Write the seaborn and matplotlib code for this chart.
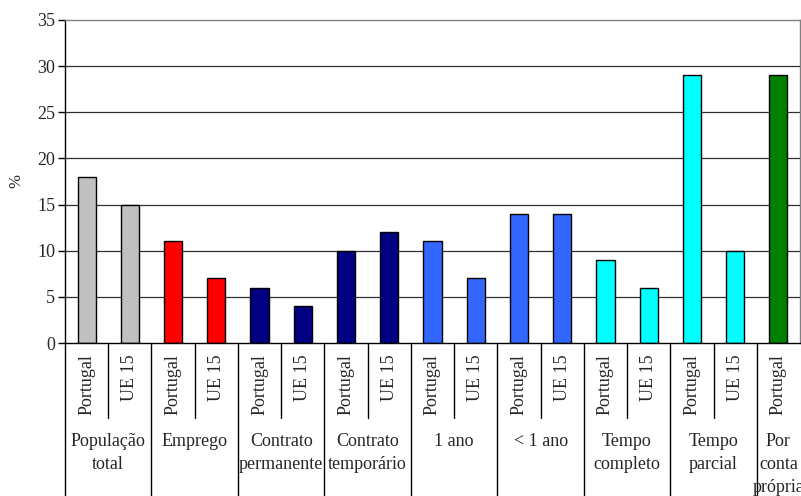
import matplotlib
matplotlib.use("Agg")
import matplotlib.pyplot as plt
import seaborn as sns
import pandas as pd

# Grupos e valores (%)
grupos = ["População\ntotal", "Emprego", "Contrato\npermanente", "Contrato\ntemporário",
          "1 ano", "< 1 ano", "Tempo\ncompleto", "Tempo\nparcial", "Por\nconta\nprópria"]
portugal = [18, 11, 6, 10, 11, 14, 9, 29, 29]
ue15 = [15, 7, 4, 12, 7, 14, 6, 10, None]
cores_grupo = ["#C0C0C0", "#FF0000", "#000080", "#000080", "#3366FF", "#3366FF",
               "#00FFFF", "#00FFFF", "#008000"]
paises = ["Portugal", "UE 15"]

linhas = []
for g, p, u, c in zip(grupos, portugal, ue15, cores_grupo):
    linhas.append({"barra": f"{g}|Portugal", "grupo": g, "pais": "Portugal", "valor": p, "cor": c})
    if u is not None:
        linhas.append({"barra": f"{g}|UE 15", "grupo": g, "pais": "UE 15", "valor": u, "cor": c})
df = pd.DataFrame(linhas)

sns.set_style("white")
plt.rcParams["font.family"] = ["Liberation Serif", "DejaVu Serif"]

fig = plt.figure(figsize=(8.01, 4.96), dpi=100)
ax = fig.add_axes([65 / 801, 1 - 343 / 496, 735 / 801, 323 / 496])

paleta = dict(zip(df["barra"], df["cor"]))
sns.barplot(data=df, x="barra", y="valor", hue="barra", palette=paleta, order=list(df["barra"]),
            width=0.42, edgecolor="black", linewidth=1.0, saturation=1, legend=False, ax=ax)

ax.set_ylim(0, 35)
ax.set_xlim(-0.5, len(df) - 0.5)
ax.set_yticks(range(0, 36, 5))
ax.tick_params(axis="y", labelsize=13, length=5, width=1, color="black", left=True, pad=2)
ax.tick_params(axis="x", bottom=False, labelbottom=False)
ax.set_xlabel("")
ax.set_ylabel("%", fontsize=12, labelpad=9)

for v in range(5, 35, 5):
    ax.axhline(v, color="#303030", lw=0.9, zorder=0)

for lado in ["top", "right"]:
    ax.spines[lado].set_color("#808080")
    ax.spines[lado].set_linewidth(1.0)
for lado in ["left", "bottom"]:
    ax.spines[lado].set_color("black")
    ax.spines[lado].set_linewidth(1.0)

trans = ax.get_xaxis_transform()
fundo = (343 - 496) / 323
curto = (343 - 418) / 323

# Rótulos das barras e separadores
pos = 0
for g in grupos:
    sub = df[df["grupo"] == g]
    n = len(sub)
    ax.plot([pos - 0.5, pos - 0.5], [0, fundo], transform=trans, color="black",
            lw=1.0, clip_on=False)
    for i, (_, r) in enumerate(sub.iterrows()):
        x = pos + i
        ax.text(x, -0.035, r["pais"], transform=trans, rotation=90, ha="center",
                va="top", fontsize=13)
        if i > 0:
            ax.plot([x - 0.5, x - 0.5], [0, curto], transform=trans, color="black",
                    lw=1.0, clip_on=False)
    ax.text(pos + (n - 1) / 2, -0.28, g, transform=trans, ha="center", va="top",
            multialignment="center", fontsize=13, linespacing=1.45)
    pos += n

fig.savefig("out.png", dpi=100, facecolor="white")
